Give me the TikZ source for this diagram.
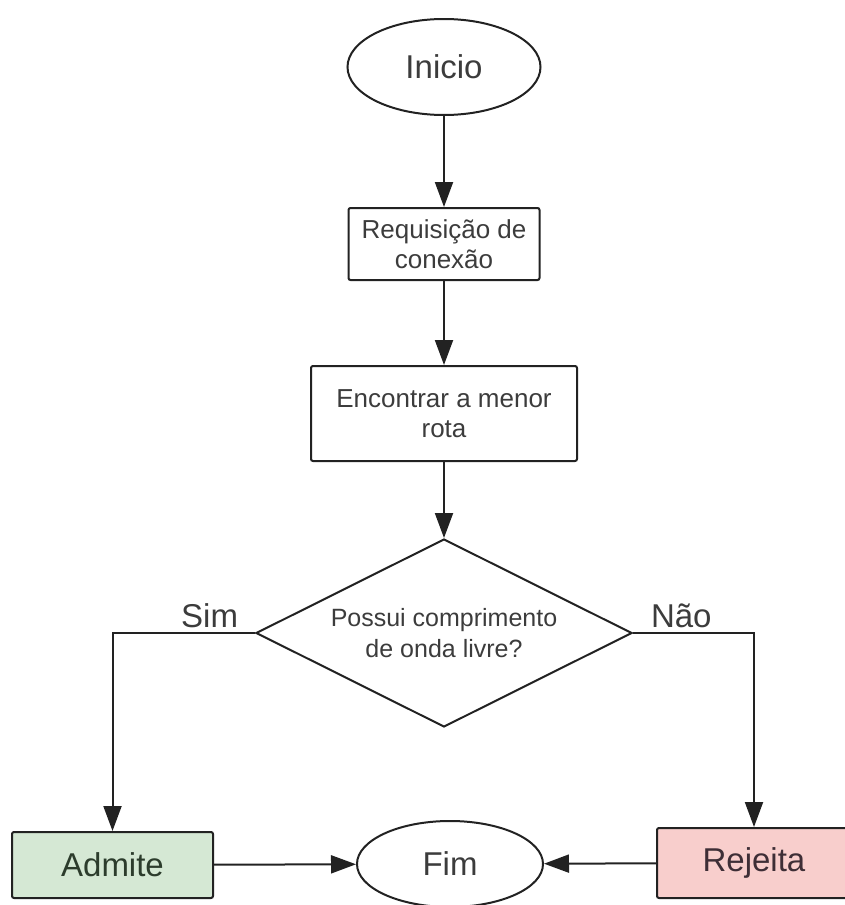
\documentclass[tikz,border=0pt]{standalone}
\usepackage{fontspec}
\setmainfont{Liberation Sans}
\usepackage{tikz}
\usepackage{xcolor}
\usetikzlibrary{arrows.meta,calc,positioning,shapes.geometric}
\definecolor{flowline}{RGB}{34,34,34}
\definecolor{flowtext}{RGB}{60,60,60}
\definecolor{okgreen}{RGB}{213,232,212}
\definecolor{okdark}{RGB}{44,60,44}
\definecolor{nored}{RGB}{248,206,204}
\definecolor{nodark}{RGB}{62,46,54}

\begin{document}
\begin{tikzpicture}[x=1pt,y=-1pt,line width=2pt,draw=flowline,
  >={Triangle[length=25pt,width=18pt]},
  term/.style={ellipse,draw,inner sep=0pt,font=\fontsize{33}{37}\selectfont,text=flowtext},
  procbox/.style={rectangle,draw,rounded corners=2pt,inner sep=0pt,align=center,
    font=\fontsize{26}{30}\selectfont,text=flowtext},
  endbox/.style={rectangle,draw,rounded corners=2pt,inner sep=0pt,font=\fontsize{33}{37}\selectfont},
  branch/.style={font=\fontsize{33}{37}\selectfont,text=flowtext,inner sep=0pt}]
\useasboundingbox (0,0) rectangle (844,905);
\node[term,minimum width=193pt,minimum height=96pt] (ini) at (444,67) {Inicio};
\node[procbox,minimum width=191pt,minimum height=72pt] (req) at (444,244) {Requisição de\\conexão};
\node[procbox,minimum width=266pt,minimum height=95pt] (enc) at (444,413.5) {Encontrar a menor\\rota};
\node[diamond,draw,aspect=2,inner sep=0pt,minimum width=376pt,minimum height=188pt,
  align=center,font=\fontsize{25}{31}\selectfont,text=flowtext] (dec) at (444,633)
  {Possui comprimento\\de onda livre?};
\node[endbox,fill=okgreen,text=okdark,minimum width=201pt,minimum height=66pt] (adm) at (112.5,865) {Admite};
\node[term,minimum width=186pt,minimum height=86pt] (fim) at (450,864) {Fim};
\node[endbox,fill=nored,text=nodark,minimum width=194pt,minimum height=70pt] (rej) at (754,863) {Rejeita};
\node[branch,anchor=base east] (sim) at ([shift={(-16pt,6pt)}]dec.west) {Sim};
\node[branch,anchor=base west] (nao) at ([shift={(17pt,6pt)}]dec.east) {Não};
% main line
\draw[->] (ini) -- (req);
\draw[->] (req) -- (enc);
\draw[->] (enc) -- (dec);
% branches
\draw[->] (dec.west) -| (adm.north);
\draw[->] (dec.east) -| (rej.north);
\draw[->] (adm) -- (fim);
\draw[->] (rej) -- (fim);
\end{tikzpicture}
\end{document}
